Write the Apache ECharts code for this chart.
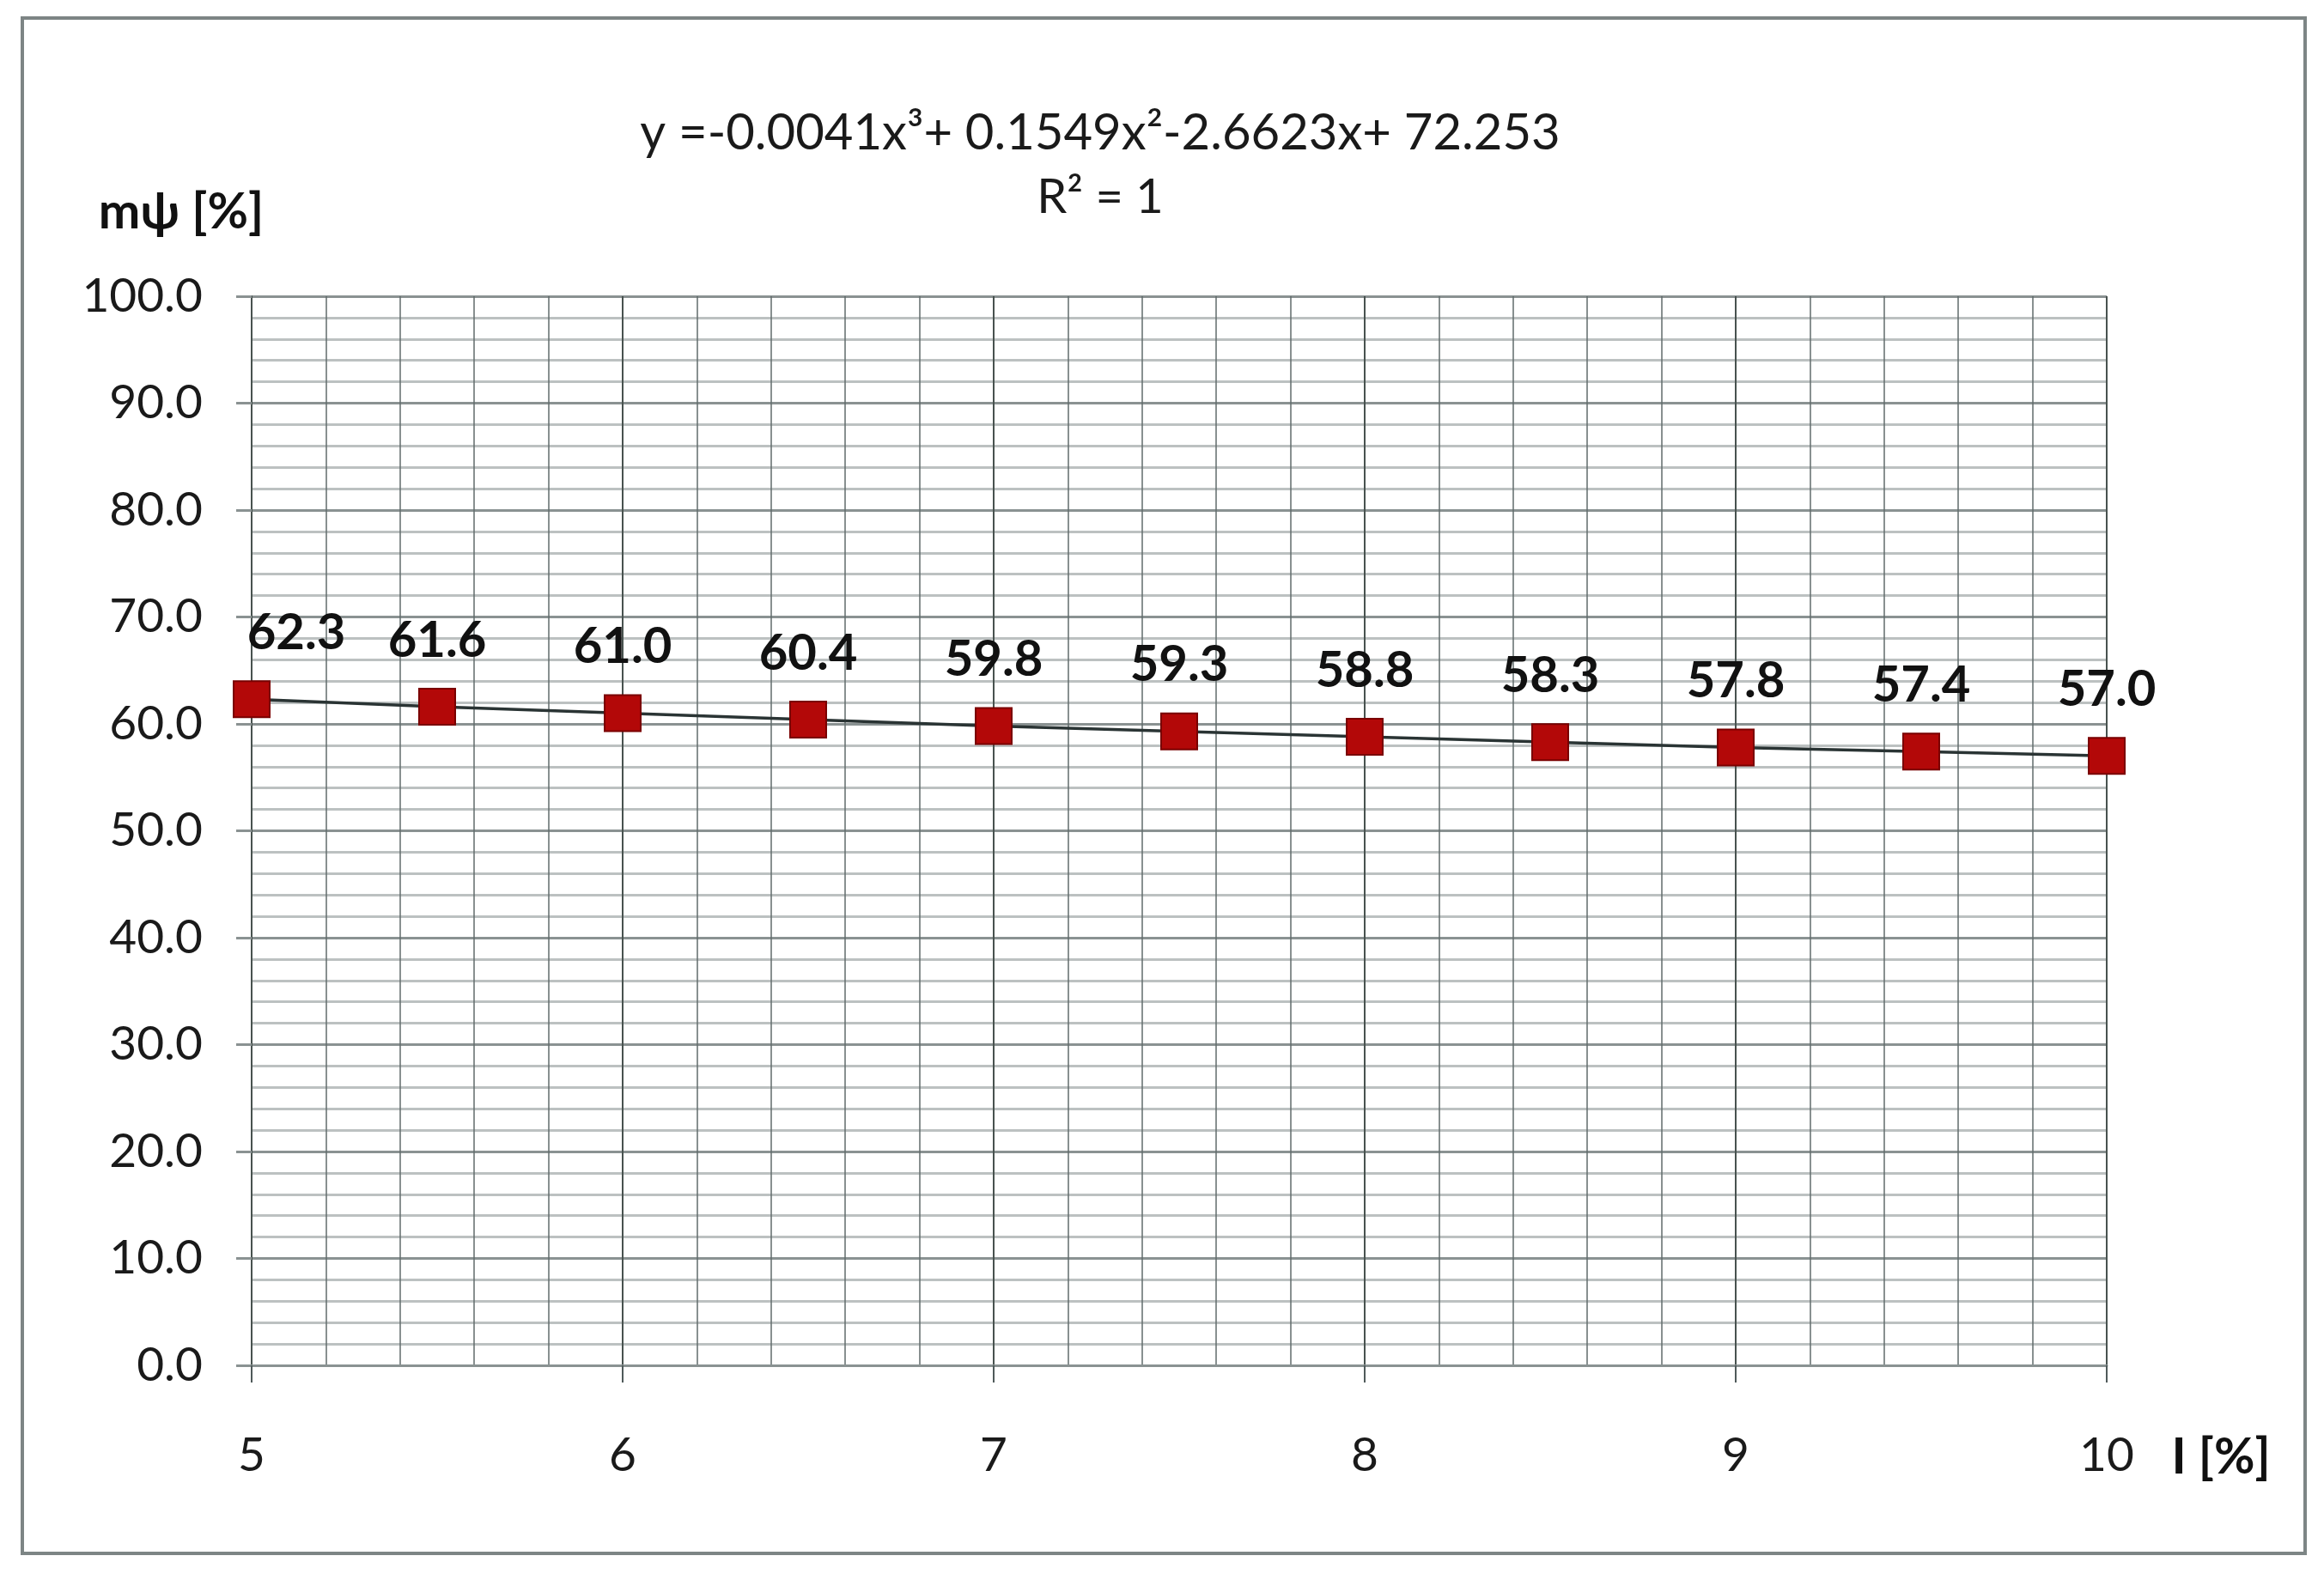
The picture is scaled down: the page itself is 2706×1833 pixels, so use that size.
<!DOCTYPE html>
<html>
<head>
<meta charset="utf-8">
<script src="https://cdn.jsdelivr.net/npm/echarts@6/dist/echarts.min.js"></script>
<style>
  html, body { margin: 0; padding: 0; background: #ffffff; }
  #chart { width: 2706px; height: 1833px; }
</style>
</head>
<body>
<div id="chart"></div>
<script>
// data
var slope = [5, 5.5, 6, 6.5, 7, 7.5, 8, 8.5, 9, 9.5, 10];
var mpsi = [62.3, 61.6, 61.0, 60.4, 59.8, 59.3, 58.8, 58.3, 57.8, 57.4, 57.0];
var equationText = 'y =-0.0041x\u00b3+ 0.1549x\u00b2-2.6623x+ 72.253';
var r2Text = 'R\u00b2 = 1';
var yTitle = 'm\u03c8 [%]';
var xTitle = 'I [%]';

function buildPoints(){
  var pts = [];
  for(var i=0;i<slope.length;i++){
    var item = {value: [slope[i], mpsi[i]]};
    if(i == 0){
      item.label = {offset: [52, 0]};
    }
    pts.push(item);
  }
  return pts;
}

var fontName = 'Lato';
var myChart = echarts.init(document.getElementById('chart'));
var option = {
  backgroundColor: '#ffffff',
  animation: false,
  grid: {
    left: 293,
    right: 253,
    top: 345,
    bottom: 243,
    containLabel: false
  },
  graphic: [
    {
      type: 'rect',
      shape: {x: 26, y: 21, width: 2658, height: 1788},
      style: {fill: 'none', stroke: '#7d8585', lineWidth: 4}
    },
    {
      type: 'text',
      style: {text: equationText, x: 1281, y: 155, textAlign: 'center', textVerticalAlign: 'middle',
              font: '58px ' + fontName, fill: '#1a1a1a'}
    },
    {
      type: 'text',
      style: {text: r2Text, x: 1281, y: 230, textAlign: 'center', textVerticalAlign: 'middle',
              font: '56px ' + fontName, fill: '#1a1a1a'}
    },
    {
      type: 'text',
      style: {text: yTitle, x: 211, y: 247, textAlign: 'center', textVerticalAlign: 'middle',
              font: 'bold 58px ' + fontName, fill: '#111111'}
    },
    {
      type: 'text',
      style: {text: xTitle, x: 2586, y: 1697, textAlign: 'center', textVerticalAlign: 'middle',
              font: 'bold 58px ' + fontName, fill: '#111111'}
    }
  ],
  xAxis: {
    type: 'value',
    min: 5,
    max: 10,
    interval: 1,
    axisLine: {show: true, lineStyle: {color: '#8a9292', width: 3}},
    axisTick: {show: true, inside: false, length: 20, lineStyle: {color: '#4f5a5a', width: 2}},
    axisLabel: {margin: 78, fontFamily: fontName, fontSize: 55, color: '#1a1a1a'},
    splitLine: {show: true, lineStyle: {color: '#48524f', width: 2}},
    minorTick: {show: false, splitNumber: 5},
    minorSplitLine: {show: true, lineStyle: {color: '#626c6c', width: 1.5}}
  },
  yAxis: {
    type: 'value',
    min: 0,
    max: 100,
    interval: 10,
    axisLine: {show: true, lineStyle: {color: '#48524f', width: 2}},
    axisTick: {show: true, inside: false, length: 18, lineStyle: {color: '#8a9292', width: 3}},
    axisLabel: {
      margin: 57,
      fontFamily: fontName,
      fontSize: 55,
      color: '#1a1a1a',
      formatter: function(v){ return v.toFixed(1); }
    },
    splitLine: {show: true, lineStyle: {color: '#8a9292', width: 3}},
    minorTick: {show: false, splitNumber: 5},
    minorSplitLine: {show: true, lineStyle: {color: '#bcc1c1', width: 3}}
  },
  series: [
    {
      name: 'm\u03c8',
      type: 'line',
      data: buildPoints(),
      symbol: 'rect',
      symbolSize: 42,
      lineStyle: {color: '#2a3434', width: 3.5},
      itemStyle: {color: '#b30808', borderColor: '#7a0000', borderWidth: 2},
      label: {
        show: true,
        position: 'top',
        distance: 26,
        fontFamily: fontName,
        fontWeight: 'bold',
        fontSize: 58,
        color: '#111111',
        formatter: function(p){ return p.value[1].toFixed(1); }
      }
    }
  ]
};
myChart.setOption(option);
</script>
</body>
</html>
